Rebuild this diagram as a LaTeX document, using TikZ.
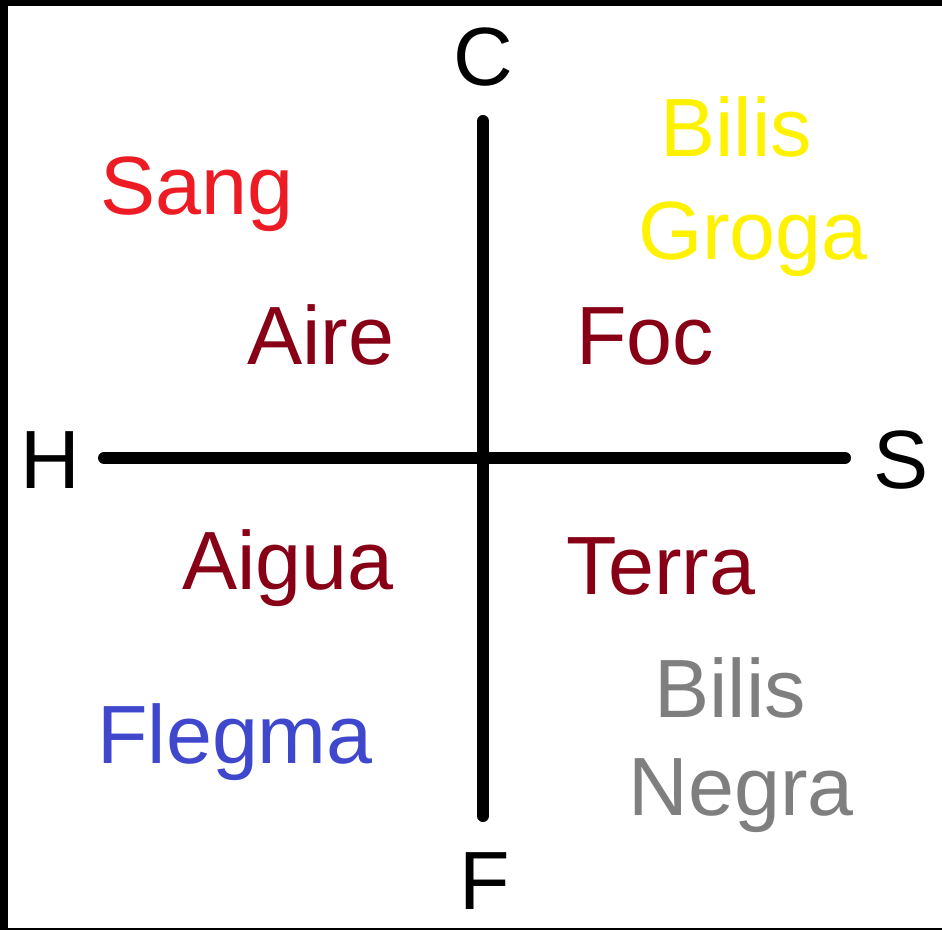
\documentclass[tikz,border=0pt]{standalone}
\usepackage{fontspec}
\setmainfont{Liberation Sans}
\usetikzlibrary{positioning}
\definecolor{sangred}{RGB}{237,28,36}
\definecolor{elemred}{RGB}{136,0,21}
\definecolor{bilisyellow}{RGB}{255,242,0}
\definecolor{bilisgray}{RGB}{127,127,127}
\definecolor{flegmablue}{RGB}{63,72,204}

\begin{document}
\begin{tikzpicture}[x=0.75pt, y=-0.75pt,
    every node/.style={font=\fontsize{62}{70}\selectfont, inner sep=0pt, anchor=base},
    axis/.style={line width=9pt, line cap=round}]
            % Frame
            \fill[black] (0,0) rectangle (942,930);
            \fill[white] (8,6) rectangle (942,928);
            \useasboundingbox (0,0) rectangle (942,930);
            
            % Axis ends
            \coordinate (top) at (483,121);
            \coordinate (bottom) at (483,816);
            \coordinate (left) at (104,458);
            \coordinate (right) at (845,458);
            
            % Axes
            \draw[axis] (top) -- (bottom);
            \draw[axis] (left) -- (right);
            
            % Axis labels
            \node (C) at (483,86) {C};
            \node (F) at (485,909) {F};
            \node (H) at (50,488) {H};
            \node (S) at (901,488) {S};
            
            % Elements
            \node[text=elemred] (aire) at (321,364) {Aire};
            \node[text=elemred] (foc) at (645,364) {Foc};
            \node[text=elemred] (aigua) at (288,589) {Aigua};
            \node[text=elemred] (terra) at (661,594) {Terra};
            
            % Humours
            \node[text=sangred] (sang) at (197,215) {Sang};
            \node[text=bilisyellow] (bilisG) at (736,157) {Bilis};
            \node[text=bilisyellow] (groga) at (753,260) {Groga};
            \node[text=flegmablue] (flegma) at (235,763) {Flegma};
            \node[text=bilisgray] (bilisN) at (730,717) {Bilis};
            \node[text=bilisgray] (negra) at (741,815) {Negra};
        \end{tikzpicture}
\end{document}
